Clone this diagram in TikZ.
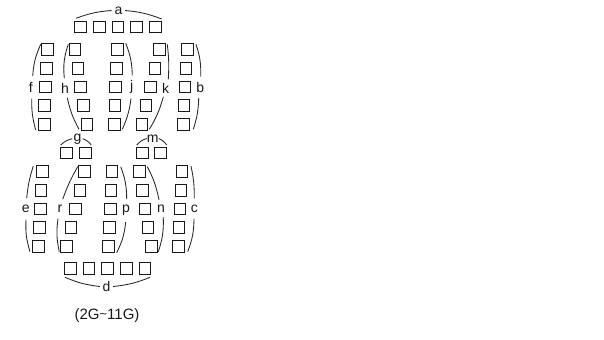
\documentclass[tikz,border=0pt]{standalone}
\usepackage{fontspec}
\setmainfont{Liberation Sans}
\tikzset{
  seat/.style={draw=black!90,line width=1.05bp,minimum size=11.8bp,inner sep=0pt,rectangle},
  lab/.style={inner sep=0pt,font=\fontsize{14bp}{14bp}\selectfont,text=black!90},
  caption/.style={inner sep=0pt,font=\fontsize{15bp}{15bp}\selectfont,text=black!90},
  arcline/.style={draw=black!85,line width=0.85bp},
  L/.style={bend left=#1},
  R/.style={bend right=#1}
}
\newcommand{\seats}[2]{\foreach \nm/\px/\py in {#2}{\node[seat] (#1\nm) at (\px,\py) {};}}
\begin{document}
\begin{tikzpicture}[x=1bp,y=-1bp]
\useasboundingbox (0,0) rectangle (604,339);
\seats{a}{1/80.7/27,2/99.3/27,3/118/27,4/136.7/27,5/155.3/27}
\seats{f}{1/47.7/49.7,2/46.3/68.3,3/45.3/87,4/44.7/105.7,5/44.3/124.3}
\seats{h}{1/75/49.7,2/78/68.3,3/80.7/87,4/83.7/105.7,5/87/124.3}
\seats{j}{1/117.3/49.7,2/116.7/68.3,3/115.7/87,4/115/105.7,5/114.3/124.3}
\seats{k}{1/159.7/49.7,2/155/68.3,3/150.7/87,4/146/105.7,5/142/124.3}
\seats{b}{1/187.3/49.7,2/186/68.3,3/185/87,4/184/105.7,5/183.3/124.3}
\seats{g}{1/66.7/153,2/85.3/153}
\seats{m}{1/142.3/153,2/160.7/153}
\seats{e}{1/42.3/171.7,2/41/190.3,3/40.3/209,4/39.7/227.7,5/38.7/246.3}
\seats{r}{1/84.7/171.7,2/80/190.3,3/75.7/209,4/71/227.7,5/66.7/246.3}
\seats{p}{1/112/171.7,2/111/190.3,3/110.3/209,4/109.3/227.7,5/108.7/246.3}
\seats{n}{1/139.3/171.7,2/142.3/190.3,3/145/209,4/148/227.7,5/151.3/246.3}
\seats{c}{1/182/171.7,2/181/190.3,3/180/209,4/179/227.7,5/178.3/246.3}
\seats{d}{1/70.3/268.7,2/89/268.7,3/107.7/268.7,4/126.3/268.7,5/145/268.7}
% labels
\node[lab,minimum width=13bp] (la) at (118.4,10.5) {a};
\node[lab,minimum height=22bp] (lf) at (30.7,87.3) {f};
\node[lab,minimum height=19bp] (lh) at (65,88) {h};
\node[lab,minimum height=23bp] (lj) at (131.7,87) {j};
\node[lab,minimum height=17bp] (lk) at (165.7,88) {k};
\node[lab,minimum height=21bp] (lb) at (200.3,87.3) {b};
\node[lab,minimum width=10bp] (lg) at (77.5,138.7) {g};
\node[lab,minimum width=11bp] (lm) at (152.7,138.5) {m};
\node[lab,minimum height=21bp] (le) at (25.7,209) {e};
\node[lab,minimum height=19bp] (lr) at (60,209) {r};
\node[lab,minimum height=23bp] (lp) at (126,210.5) {p};
\node[lab,minimum height=17bp] (ln) at (161,208.5) {n};
\node[lab,minimum height=20bp] (lc) at (194.3,208.5) {c};
\node[lab,minimum width=13bp] (ld) at (106.5,286.5) {d};
\node[caption] (capt) at (107,315.7) {(2G{\fontsize{13bp}{13bp}\selectfont\raisebox{1bp}{\textasciitilde}}11G)};
% brackets
\draw[arcline] ([shift={(-4.7,-8.7)}]a1.center) to[L=8] (la.west);
\draw[arcline] ([shift={(6.4,-8)}]a5.center) to[R=8] (la.east);
\draw[arcline] ([shift={(-7,-5.4)}]f1.center) to[R=10] ([xshift=2]lf.north);
\draw[arcline] ([shift={(-8.6,5.7)}]f5.center) to[L=8] ([xshift=1]lf.south);
\draw[arcline] ([shift={(-6.7,-5.4)}]h1.center) to[R=12] ([xshift=-0.7]lh.north);
\draw[arcline] ([shift={(-8,5)}]h5.center) to[L=8] ([xshift=2.3]lh.south);
\draw[arcline] ([shift={(8.4,-6.4)}]j1.center) to[L=10] ([xshift=0.6]lj.north);
\draw[arcline] ([shift={(8,5)}]j5.center) to[R=8] ([xshift=-0.7]lj.south);
\draw[arcline] ([shift={(7.6,-5.4)}]k1.center) to[L=5] ([xshift=2.6]lk.north);
\draw[arcline] ([shift={(7.3,5)}]k5.center) to[R=8] ([xshift=-2.4]lk.south);
\draw[arcline] ([shift={(8.7,-5.4)}]b1.center) to[L=10] ([xshift=0.4]lb.north);
\draw[arcline] ([shift={(10,5)}]b5.center) to[R=8] ([xshift=-1.6]lb.south);
\draw[arcline] ([shift={(-6,-8)}]g1.center) to[L=15] (lg.west);
\draw[arcline] ([shift={(6,-8)}]g2.center) to[R=15] (lg.east);
\draw[arcline] ([shift={(-5.6,-8)}]m1.center) to[L=15] (lm.west);
\draw[arcline] ([shift={(6,-8)}]m2.center) to[R=15] (lm.east);
\draw[arcline] ([shift={(-9,-5.7)}]e1.center) to[R=6] ([xshift=1]le.north);
\draw[arcline] ([shift={(-8.7,5.4)}]e5.center) to[L=10] ([xshift=0.3]le.south);
\draw[arcline] ([shift={(-7,-5)}]r1.center) to[R=5] ([xshift=2.7]lr.north);
\draw[arcline] ([shift={(-7.4,5.4)}]r5.center) to[L=10] ([xshift=-2]lr.south);
\draw[arcline] ([shift={(8.7,-5)}]p1.center) to[L=10] ([xshift=0.7]lp.north);
\draw[arcline] ([shift={(8,6.4)}]p5.center) to[R=10] ([xshift=-0.3]lp.south);
\draw[arcline] ([shift={(8,-5)}]n1.center) to[L=8] ([xshift=-2]ln.north);
\draw[arcline] ([shift={(7,5.4)}]n5.center) to[R=10] ([xshift=2.3]ln.south);
\draw[arcline] ([shift={(9,-5.7)}]c1.center) to[L=6] (lc.north);
\draw[arcline] ([shift={(9.4,5.4)}]c5.center) to[R=10] ([xshift=-0.3]lc.south);
\draw[arcline] ([shift={(-5.3,8.6)}]d1.center) to[R=8] (ld.west);
\draw[arcline] ([shift={(5,8.6)}]d5.center) to[L=8] (ld.east);
\end{tikzpicture}
\end{document}
